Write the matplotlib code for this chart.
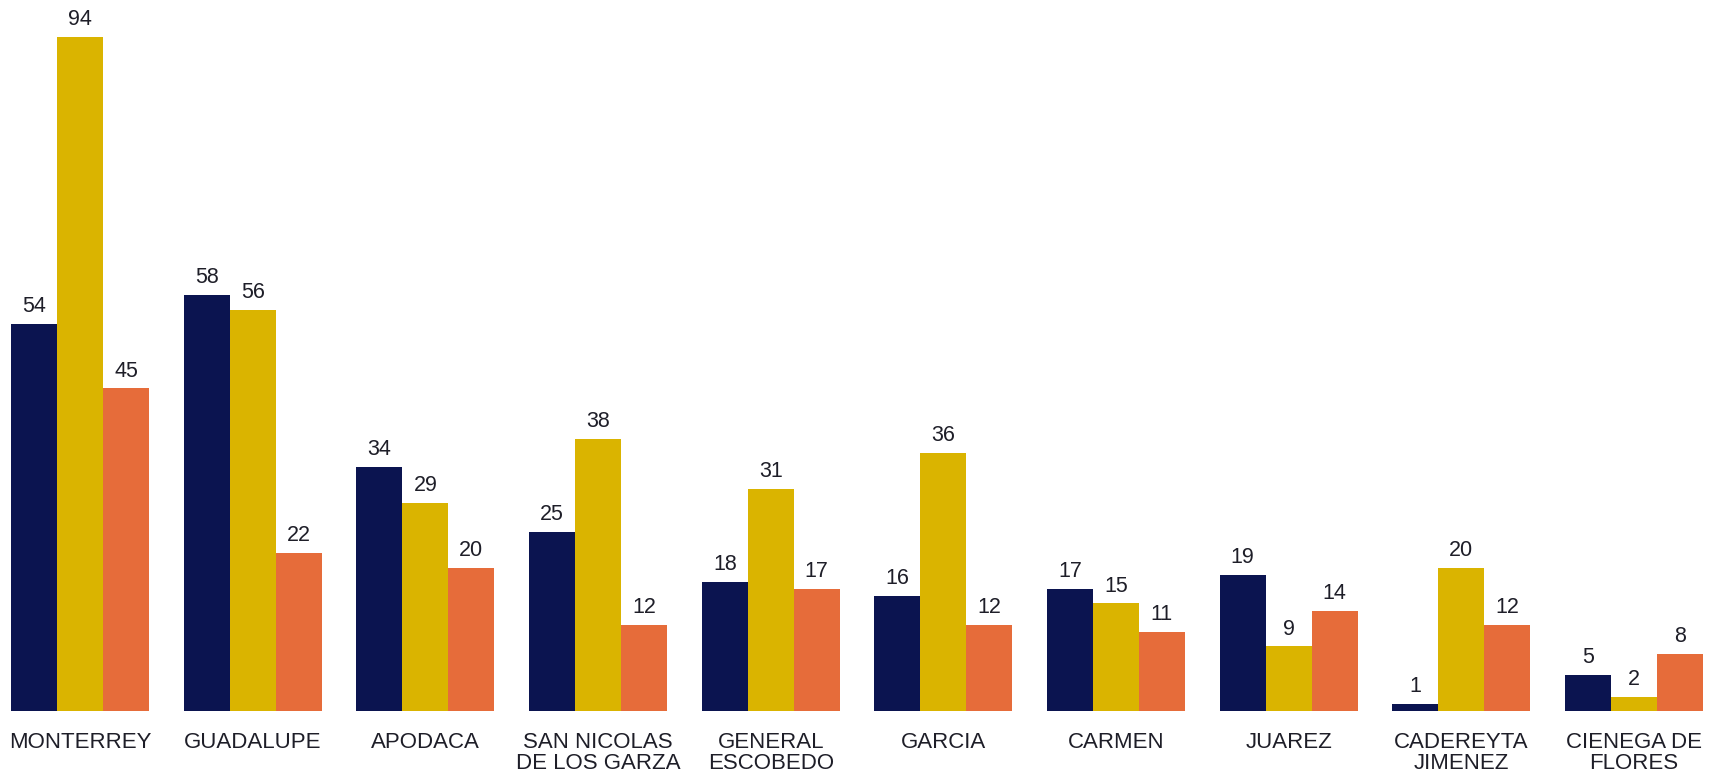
import matplotlib
matplotlib.use("Agg")
import matplotlib.pyplot as plt
import numpy as np

categories = ["MONTERREY", "GUADALUPE", "APODACA", "SAN NICOLAS\nDE LOS GARZA",
              "GENERAL\nESCOBEDO", "GARCIA", "CARMEN", "JUAREZ",
              "CADEREYTA\nJIMENEZ", "CIENEGA DE\nFLORES"]
serie_1 = [54, 58, 34, 25, 18, 16, 17, 19, 1, 5]
serie_2 = [94, 56, 29, 38, 31, 36, 15, 9, 20, 2]
serie_3 = [45, 22, 20, 12, 17, 12, 11, 14, 12, 8]

colors = ["#0B1450", "#DAB400", "#E66C3A"]

plt.rcParams['font.family'] = ['Liberation Sans', 'DejaVu Sans']

fig = plt.figure(figsize=(17.21, 7.77), dpi=100)
ax = fig.add_axes([0, 66/777, 1, 711/777])

x = np.arange(len(categories))
w = 0.266
for k, (vals, c) in enumerate(zip([serie_1, serie_2, serie_3], colors)):
    pos = x + (k - 1) * w
    bars = ax.bar(pos, vals, width=w, color=c, linewidth=0)
    for b, v in zip(bars, vals):
        ax.annotate(str(v), (b.get_x() + b.get_width() / 2, b.get_height()),
                    xytext=(0, 5), textcoords="offset points",
                    ha="center", va="bottom", fontsize=15.5, color="#1e1e28")

ax.set_xlim(-0.4637, 9.504)
ax.set_ylim(0, 99.2)
ax.set_xticks(x)
ax.set_xticklabels(categories, fontsize=16, color="#1e1e28", linespacing=1.0)
ax.tick_params(axis="x", length=0, pad=15)
ax.set_yticks([])
for s in ax.spines.values():
    s.set_visible(False)

fig.savefig("out.png", dpi=100)
